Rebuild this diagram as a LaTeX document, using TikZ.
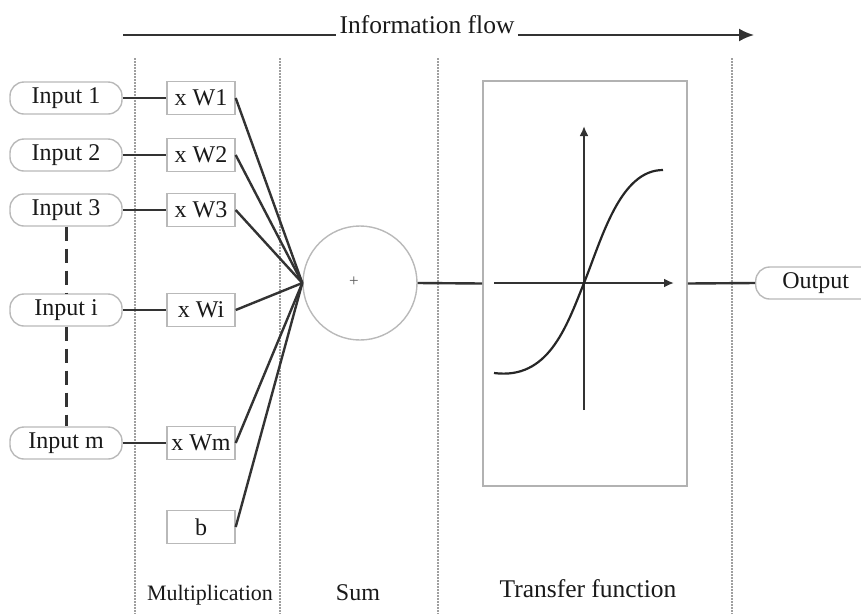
\documentclass[tikz,border=0pt]{standalone}
\usepackage{fontspec}
\setmainfont{Liberation Serif}
\usetikzlibrary{arrows.meta}
\begin{document}
\begin{tikzpicture}[x=1pt,y=-1pt,
  every node/.style={font=\fontsize{24}{28}\selectfont, text=black!90},
  inbox/.style={draw=gray!55, line width=1.4pt, rounded corners=14pt, minimum width=112pt, minimum height=32pt, inner sep=0pt},
  wbox/.style={draw=gray!55, line width=1.4pt, minimum width=68pt, minimum height=33pt, inner sep=0pt},
  conn/.style={draw=black!80, line width=2.4pt},
  divider/.style={draw=gray!75, line width=1.7pt, dash pattern=on 1.6pt off 1.4pt},
  dashes/.style={draw=black!80, line width=3pt, dash pattern=on 14pt off 8pt},
  lbl/.style={anchor=base}
]
\useasboundingbox (0,0) rectangle (861,614);

% dividers
\foreach \xx/\nm in {135/da,280/db,438/dc,732/dd}{
  \coordinate (\nm t) at (\xx,58);
  \coordinate (\nm b) at (\xx,614);
  \draw[divider] (\nm t) -- (\nm b);
}

% information flow
\coordinate (flowstart) at (123,35);
\coordinate (flowend) at (754,35);
\node[lbl, font=\fontsize{25.5}{28}\selectfont] (flow) at (427,33) {Information flow};
\draw[conn, line width=2pt] (flowstart) -- (flow.west |- flowstart);
\draw[conn, line width=2pt, -{Latex[length=15pt,width=13pt]}] (flow.east |- flowstart) -- (flowend);

% inputs
\node[inbox] (in1) at (66,98) {Input 1};
\node[inbox] (in2) at (66,155) {Input 2};
\node[inbox] (in3) at (66,210) {Input 3};
\node[inbox] (ini) at (66,310) {Input i};
\node[inbox] (inm) at (66,443) {Input m};

% weights
\node[wbox] (w1) at (201,98) {x W1};
\node[wbox] (w2) at (201,155) {x W2};
\node[wbox] (w3) at (201,210) {x W3};
\node[wbox] (wi) at (201,310) {x Wi};
\node[wbox] (wm) at (201,443) {x Wm};
\node[wbox] (wb) at (201,527) {b};

% dashed vertical
\draw[dashes] (in3.south) -- (ini.north);
\draw[dashes] (ini.south) -- (inm.north);

% input to weight
\foreach \a/\b in {in1/w1,in2/w2,in3/w3,ini/wi,inm/wm}{
  \draw[conn] (\a.east) -- (\b.west);
}

% sum
\node[circle, draw=gray!55, line width=1.4pt, minimum size=114pt, inner sep=0pt] (sum) at (360,283) {};
\node[font=\fontsize{17}{18}\selectfont, text=gray!70!black] (plus) at (354,282) {+};

\foreach \w in {w1,w2,w3,wi,wm,wb}{
  \draw[conn] (\w.east) -- (sum.west);
}

% transfer box
\node[draw=gray!60, line width=1.6pt, minimum width=204pt, minimum height=405pt, inner sep=0pt] (tf) at (585,283.5) {};
\coordinate (hx0) at (494,283);
\coordinate (hx1) at (674,283);
\coordinate (vy0) at (584,410);
\coordinate (vy1) at (584,126);
\draw[conn, -{Latex[length=10pt,width=9pt]}] (hx0) -- (hx1);
\draw[conn, -{Latex[length=10pt,width=9pt]}] (vy0) -- (vy1);
\draw[draw=black!85, line width=2.2pt] (494,373) .. controls (548,380) and (566,328) .. (584,283)
   .. controls (602,238) and (620,170) .. (663,170);

\draw[conn] (sum.east) -- (tf.west);

% output
\node[inbox, minimum width=120pt, anchor=west] (out) at (755,283) {Output};
\draw[conn] (tf.east) -- (out.west);

% column labels
\node[lbl, font=\fontsize{22}{26}\selectfont] (lm) at (210,600) {Multiplication};
\node[lbl] (ls) at (358,600) {Sum};
\node[lbl, font=\fontsize{25.5}{28}\selectfont] (lt) at (588,597) {Transfer function};
\end{tikzpicture}
\end{document}
